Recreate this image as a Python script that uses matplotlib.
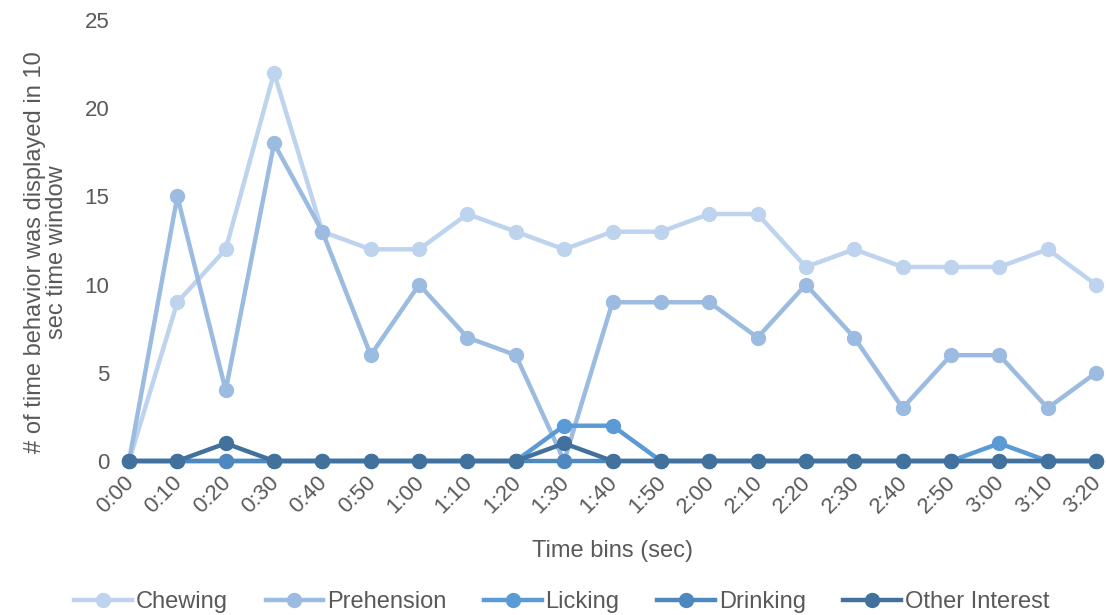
import matplotlib
matplotlib.use("Agg")
import matplotlib.pyplot as plt
from matplotlib.transforms import ScaledTranslation

plt.rcParams['font.family'] = ['Liberation Sans', 'DejaVu Sans']

time_bins = ["0:00", "0:10", "0:20", "0:30", "0:40", "0:50", "1:00", "1:10", "1:20", "1:30",
             "1:40", "1:50", "2:00", "2:10", "2:20", "2:30", "2:40", "2:50", "3:00", "3:10", "3:20"]
chewing = [0, 9, 12, 22, 13, 12, 12, 14, 13, 12, 13, 13, 14, 14, 11, 12, 11, 11, 11, 12, 10]
prehension = [0, 15, 4, 18, 13, 6, 10, 7, 6, 0, 9, 9, 9, 7, 10, 7, 3, 6, 6, 3, 5]
licking = [0, 0, 0, 0, 0, 0, 0, 0, 0, 2, 2, 0, 0, 0, 0, 0, 0, 0, 1, 0, 0]
drinking = [0] * 21
other_interest = [0, 0, 1, 0, 0, 0, 0, 0, 0, 1, 0, 0, 0, 0, 0, 0, 0, 0, 0, 0, 0]

series = [
    ("Chewing", chewing, "#BDD3EE"),
    ("Prehension", prehension, "#9BBBE0"),
    ("Licking", licking, "#5B9BD5"),
    ("Drinking", drinking, "#4F87BF"),
    ("Other Interest", other_interest, "#41719C"),
]

fig = plt.figure(figsize=(11.06, 6.15), dpi=100)
ax = fig.add_axes([129/1106, 1 - 461/615, (1096 - 129)/1106, (461 - 20)/615])

x = list(range(len(time_bins)))
for name, vals, col in series:
    ax.plot(x, vals, color=col, lw=3.2, marker='o', markersize=10, label=name,
            clip_on=False, solid_joinstyle='round')

text_col = "#595959"
ax.set_xlim(0, len(time_bins) - 1)
ax.set_ylim(0, 25)
ax.set_yticks([0, 5, 10, 15, 20, 25])
ax.set_xticks(x)
ax.set_xticklabels(time_bins, rotation=45, ha='right', rotation_mode='anchor')
ax.tick_params(axis='both', length=0, colors=text_col, labelsize=16)
ax.tick_params(axis='x', pad=8)
ax.tick_params(axis='y', pad=14)
shift = ScaledTranslation(-4/72, 0, fig.dpi_scale_trans)
for lbl in ax.get_xticklabels():
    lbl.set_transform(lbl.get_transform() + shift)
for s in ax.spines.values():
    s.set_visible(False)

ax.set_xlabel("Time bins (sec)", fontsize=17, color=text_col, labelpad=16)
ax.set_ylabel("# of time behavior was displayed in 10\nsec time window", fontsize=17,
              color=text_col, labelpad=12, linespacing=1.0)
ax.yaxis.label.set_y(0.474)

leg = fig.legend(loc='lower center', bbox_to_anchor=(0.508, -0.032), ncol=5, frameon=False,
                 fontsize=17, handlelength=2.45, columnspacing=1.6, handletextpad=0.15)
for t in leg.get_texts():
    t.set_color(text_col)

fig.savefig("out.png", dpi=100)
